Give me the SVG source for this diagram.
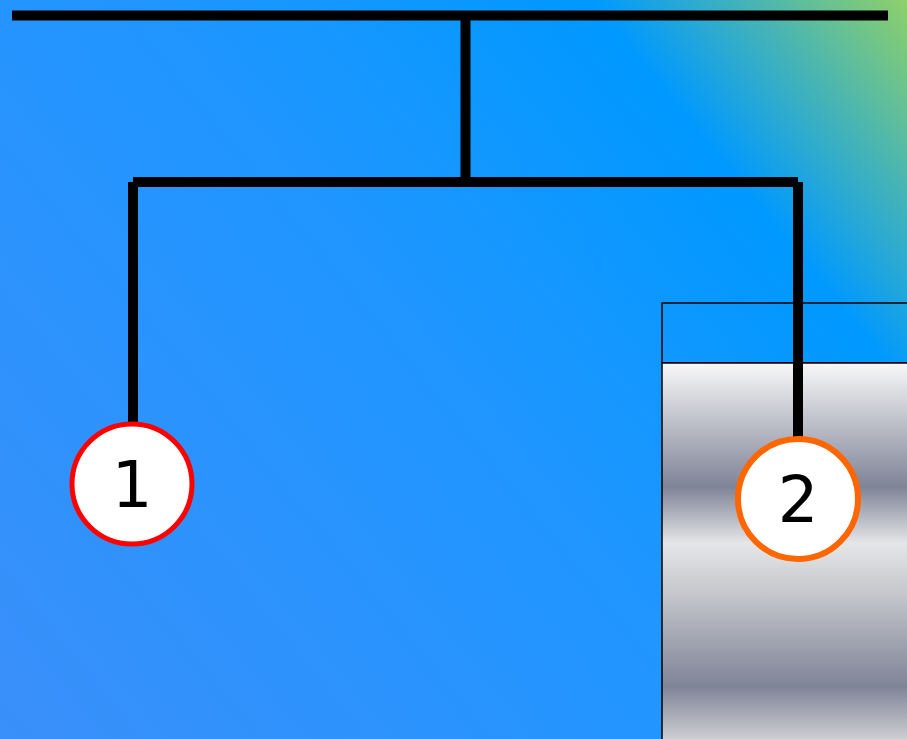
<svg xmlns="http://www.w3.org/2000/svg" width="907" height="739" viewBox="0 0 907 739">
<defs>
<linearGradient id="bg" gradientUnits="userSpaceOnUse" x1="0" y1="739" x2="907" y2="0">
<stop offset="0" stop-color="#3a8ffa"/>
<stop offset="0.5" stop-color="#2096ff"/>
<stop offset="0.79" stop-color="#0099ff"/>
<stop offset="1" stop-color="#8ed06a"/>
</linearGradient>
<linearGradient id="metal" gradientUnits="userSpaceOnUse" x1="0" y1="363" x2="0" y2="739">
<stop offset="0" stop-color="#f8f8f8"/>
<stop offset="0.33" stop-color="#7f8497"/>
<stop offset="0.48" stop-color="#e5e6e8"/>
<stop offset="0.62" stop-color="#c3c5ca"/>
<stop offset="0.86" stop-color="#7f8497"/>
<stop offset="1" stop-color="#cdced2"/>
</linearGradient>
<style>
.wire{stroke:#000;stroke-width:10;fill:none;stroke-linecap:butt}
.num{font-family:"DejaVu Sans",Verdana,sans-serif;font-size:64px;text-anchor:middle;fill:#000}
</style>
</defs>
<rect x="0" y="0" width="907" height="739" fill="url(#bg)"/>
<g id="box">
<rect x="662" y="303" width="250" height="60" fill="none" stroke="#000" stroke-width="1.5"/>
<rect x="662" y="363" width="250" height="380" fill="url(#metal)" stroke="#000" stroke-width="1.5"/>
</g>
<g id="connectors">
<line class="wire" x1="12" y1="15.5" x2="888" y2="15.5"/>
<line class="wire" x1="465.5" y1="20" x2="465.5" y2="177"/>
<line class="wire" x1="133" y1="182" x2="798" y2="182"/>
<line class="wire" x1="133" y1="182" x2="133" y2="424"/>
<line class="wire" x1="798" y1="182" x2="798" y2="439"/>
</g>
<g id="node1">
<circle cx="132" cy="484" r="60" fill="#fff" stroke="#ff0000" stroke-width="5"/>
<text class="num" x="132" y="507">1</text>
</g>
<g id="node2">
<circle cx="798" cy="499" r="60" fill="#fff" stroke="#ff6600" stroke-width="6"/>
<text class="num" x="798" y="522">2</text>
</g>
</svg>
